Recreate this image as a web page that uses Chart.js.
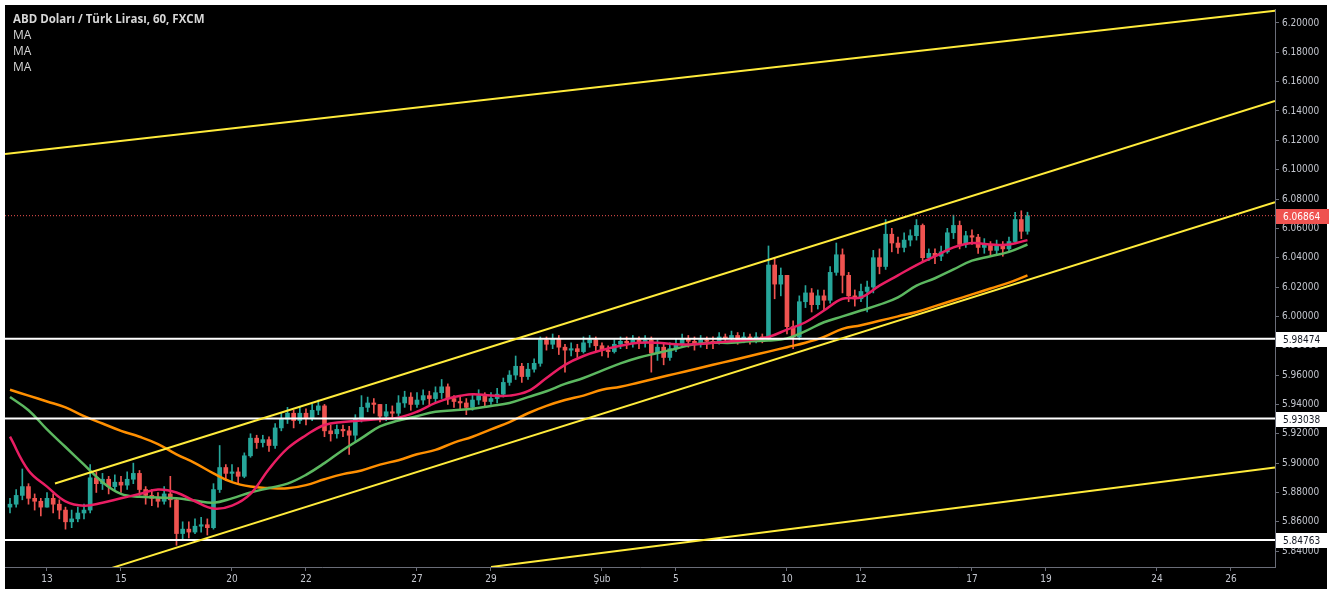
<!DOCTYPE html>
<html>
<head>
<meta charset="utf-8">
<script src="https://cdn.jsdelivr.net/npm/chart.js@4"></script>
<style>
  html, body { margin: 0; padding: 0; background: #ffffff; }
  canvas { display: block; }
</style>
</head>
<body>
<canvas id="usdtry" width="1332" height="592"></canvas>
<script>
// x values are trading days, 0 = 13 Ocak (weekends removed like the TradingView axis)
const dayTicks = [0, 2, 5, 7, 10, 12, 15, 17, 20, 22, 25, 27, 30, 32];
const dayLabels = ['13', '15', '20', '22', '27', '29', 'Şub', '5', '10', '12', '17', '19', '24', '26'];
const priceTicks = [5.84, 5.86, 5.88, 5.90, 5.92, 5.94, 5.96, 5.98, 6.00, 6.02, 6.04, 6.06, 6.08, 6.10, 6.12, 6.14, 6.16, 6.18, 6.20];

// 4-hour candles, first one at day -1, six per day (one row = one day)
const barStart = -1;
const barsPerDay = 6;
const firstOpen = 5.870;
const closes = [
  5.872, 5.878, 5.884, 5.876, 5.874, 5.870,
  5.876, 5.872, 5.868, 5.860, 5.862, 5.866,
  5.868, 5.890, 5.886, 5.889, 5.884, 5.887,
  5.885, 5.889, 5.893, 5.882, 5.878, 5.876,
  5.874, 5.879, 5.875, 5.852, 5.855, 5.853,
  5.857, 5.858, 5.856, 5.882, 5.897, 5.893,
  5.894, 5.891, 5.905, 5.917, 5.914, 5.916,
  5.912, 5.924, 5.930, 5.934, 5.929, 5.934,
  5.931, 5.936, 5.939, 5.922, 5.920, 5.923,
  5.922, 5.919, 5.930, 5.938, 5.941, 5.940,
  5.932, 5.935, 5.934, 5.941, 5.945, 5.940,
  5.943, 5.946, 5.944, 5.948, 5.952, 5.944,
  5.942, 5.941, 5.938, 5.943, 5.946, 5.942,
  5.944, 5.947, 5.955, 5.960, 5.966, 5.959,
  5.964, 5.968, 5.984, 5.981, 5.985, 5.979,
  5.977, 5.978, 5.976, 5.982, 5.984, 5.980,
  5.977, 5.976, 5.981, 5.983, 5.982, 5.984,
  5.982, 5.984, 5.975, 5.979, 5.972, 5.978,
  5.981, 5.985, 5.983, 5.981, 5.984, 5.983,
  5.982, 5.986, 5.985, 5.987, 5.984, 5.986,
  5.984, 5.986, 5.985, 6.035, 6.022, 6.028,
  5.993, 5.986, 6.010, 6.016, 6.008, 6.014,
  6.011, 6.030, 6.042, 6.028, 6.014, 6.012,
  6.017, 6.020, 6.040, 6.034, 6.056, 6.050,
  6.047, 6.052, 6.055, 6.062, 6.040, 6.043,
  6.041, 6.044, 6.057, 6.062, 6.049, 6.055,
  6.054, 6.047, 6.049, 6.045, 6.048, 6.046,
  6.051, 6.066, 6.058, 6.0686
];
const highs = [
  5.876, 5.882, 5.896, 5.886, 5.879, 5.876,
  5.880, 5.879, 5.875, 5.870, 5.868, 5.870,
  5.872, 5.899, 5.894, 5.893, 5.891, 5.892,
  5.891, 5.894, 5.900, 5.895, 5.884, 5.882,
  5.880, 5.884, 5.891, 5.876, 5.860, 5.860,
  5.862, 5.863, 5.862, 5.886, 5.912, 5.899,
  5.899, 5.897, 5.907, 5.920, 5.919, 5.919,
  5.918, 5.927, 5.934, 5.938, 5.936, 5.938,
  5.937, 5.940, 5.943, 5.940, 5.926, 5.926,
  5.926, 5.925, 5.933, 5.946, 5.945, 5.944,
  5.937, 5.940, 5.939, 5.946, 5.949, 5.948,
  5.948, 5.950, 5.949, 5.952, 5.957, 5.954,
  5.946, 5.945, 5.944, 5.947, 5.950, 5.948,
  5.948, 5.951, 5.958, 5.963, 5.973, 5.968,
  5.968, 5.971, 5.986, 5.986, 5.988, 5.987,
  5.981, 5.982, 5.981, 5.986, 5.987, 5.986,
  5.982, 5.980, 5.984, 5.986, 5.986, 5.987,
  5.986, 5.987, 5.986, 5.984, 5.981, 5.982,
  5.985, 5.988, 5.987, 5.986, 5.987, 5.986,
  5.986, 5.989, 5.988, 5.990, 5.989, 5.989,
  5.988, 5.989, 5.988, 6.048, 6.040, 6.033,
  6.028, 5.997, 6.014, 6.021, 6.019, 6.018,
  6.018, 6.034, 6.050, 6.046, 6.030, 6.018,
  6.022, 6.024, 6.045, 6.046, 6.066, 6.060,
  6.054, 6.057, 6.059, 6.066, 6.063, 6.046,
  6.046, 6.048, 6.060, 6.069, 6.065, 6.058,
  6.059, 6.056, 6.053, 6.051, 6.052, 6.051,
  6.054, 6.071, 6.072, 6.071
];
const lows = [
  5.866, 5.870, 5.875, 5.872, 5.868, 5.864,
  5.870, 5.866, 5.862, 5.855, 5.856, 5.860,
  5.862, 5.866, 5.880, 5.882, 5.879, 5.881,
  5.880, 5.882, 5.886, 5.878, 5.872, 5.871,
  5.870, 5.872, 5.870, 5.844, 5.848, 5.849,
  5.852, 5.853, 5.851, 5.855, 5.880, 5.888,
  5.888, 5.886, 5.890, 5.904, 5.910, 5.911,
  5.908, 5.910, 5.922, 5.927, 5.924, 5.927,
  5.926, 5.929, 5.933, 5.918, 5.915, 5.917,
  5.918, 5.906, 5.914, 5.928, 5.935, 5.934,
  5.928, 5.929, 5.930, 5.932, 5.938, 5.936,
  5.938, 5.940, 5.939, 5.941, 5.944, 5.940,
  5.938, 5.936, 5.933, 5.936, 5.940, 5.938,
  5.940, 5.941, 5.945, 5.953, 5.957, 5.955,
  5.957, 5.962, 5.966, 5.977, 5.978, 5.974,
  5.962, 5.973, 5.972, 5.975, 5.979, 5.976,
  5.973, 5.972, 5.975, 5.978, 5.978, 5.979,
  5.978, 5.979, 5.962, 5.970, 5.967, 5.970,
  5.976, 5.979, 5.979, 5.977, 5.979, 5.978,
  5.978, 5.981, 5.982, 5.983, 5.981, 5.982,
  5.981, 5.982, 5.982, 5.984, 6.012, 6.014,
  5.988, 5.978, 5.984, 6.006, 6.003, 6.005,
  6.004, 6.009, 6.028, 6.016, 6.010, 6.007,
  6.010, 6.003, 6.016, 6.029, 6.032, 6.044,
  6.043, 6.044, 6.048, 6.052, 6.037, 6.038,
  6.036, 6.038, 6.043, 6.053, 6.046, 6.047,
  6.049, 6.043, 6.043, 6.041, 6.042, 6.041,
  6.044, 6.050, 6.053, 6.056
];

// moving averages, one value every half day from day -1
const maStart = -1;
const maStep = 0.5;
const maPink = [
  5.918, 5.895, 5.884, 5.874, 5.871, 5.873, 5.876, 5.879, 5.882, 5.880,
  5.874, 5.869, 5.871, 5.879, 5.896, 5.910, 5.919, 5.926, 5.928, 5.929,
  5.930, 5.931, 5.935, 5.941, 5.945, 5.947, 5.946, 5.946, 5.949, 5.958,
  5.967, 5.973, 5.977, 5.980, 5.982, 5.982, 5.981, 5.981, 5.982, 5.983,
  5.984, 5.986, 5.991, 5.996, 6.004, 6.012, 6.013, 6.021, 6.028, 6.035,
  6.041, 6.047, 6.050, 6.049, 6.049, 6.052
];
const maGreen = [
  5.945, 5.936, 5.923, 5.911, 5.899, 5.887, 5.879, 5.877, 5.8766, 5.876,
  5.8745, 5.873, 5.876, 5.880, 5.883, 5.886, 5.892, 5.900, 5.909, 5.917,
  5.925, 5.929, 5.932, 5.935, 5.936, 5.937, 5.939, 5.941, 5.945, 5.949,
  5.954, 5.958, 5.963, 5.968, 5.972, 5.975, 5.978, 5.981, 5.982, 5.982,
  5.983, 5.9835, 5.985, 5.990, 5.996, 6.000, 6.004, 6.008, 6.013, 6.021,
  6.026, 6.032, 6.038, 6.041, 6.044, 6.049
];
const maOrange = [
  5.950, 5.946, 5.942, 5.938, 5.932, 5.927, 5.922, 5.918, 5.913, 5.906,
  5.900, 5.893, 5.887, 5.884, 5.883, 5.8828, 5.885, 5.889, 5.8925, 5.895,
  5.899, 5.902, 5.906, 5.909, 5.914, 5.918, 5.923, 5.928, 5.934, 5.939,
  5.943, 5.946, 5.950, 5.952, 5.955, 5.958, 5.961, 5.964, 5.967, 5.970,
  5.973, 5.976, 5.979, 5.982, 5.986, 5.9915, 5.994, 5.997, 6.000, 6.003,
  6.007, 6.011, 6.015, 6.019, 6.023, 6.028
];

// drawn trend lines: [startDay, startPrice, endDay, endPrice]
const trendLines = [
  [-1.135, 6.1107, 33.19, 6.2083],
  [0.216, 5.8861, 33.19, 6.1468],
  [1.757, 5.8286, 33.19, 6.0778],
  [12.0, 5.8292, 33.19, 5.8971]
];
const levels = [5.98474, 5.93038, 5.84763];
const lastPrice = 6.06864;

const xMin = -1.135, xMax = 33.19;
const yMin = 5.8292, yMax = 6.2095;

const UP = '#26a69a';
const DOWN = '#ef5350';
const AXIS_TEXT = '#c3c6ce';

let opens = closes.map((c, i) => i === 0 ? firstOpen : closes[i - 1]);
let candleDay = i => barStart + i / barsPerDay;
let bodies = closes.map((c, i) => ({ x: candleDay(i), y: [opens[i], c] }));
let wicks = closes.map((c, i) => ({
  x: candleDay(i),
  y: [Math.min(lows[i], opens[i], c), Math.max(highs[i], opens[i], c)]
}));
let candleColor = ctx => closes[ctx.dataIndex] >= opens[ctx.dataIndex] ? UP : DOWN;
let maPoints = arr => arr.map((v, i) => ({ x: maStart + i * maStep, y: v }));

function lineSet(data, color, width, extra) {
  return Object.assign({
    type: 'line', data: data, borderColor: color, borderWidth: width,
    pointRadius: 0, fill: false, tension: 0, order: 1
  }, extra || {});
}

let datasets = [
  { type: 'bar', data: wicks, backgroundColor: candleColor, barThickness: 1, grouped: false, order: 10 },
  { type: 'bar', data: bodies, backgroundColor: candleColor, barThickness: 4, minBarLength: 1, grouped: false, order: 9 },
  lineSet(maPoints(maOrange), '#ff8f00', 2.5, { tension: 0.4, order: 6 }),
  lineSet(maPoints(maGreen), '#5cb860', 2.5, { tension: 0.4, order: 5 }),
  lineSet(maPoints(maPink), '#e91e63', 2.5, { tension: 0.4, order: 4 }),
  lineSet([{ x: xMin, y: lastPrice }, { x: xMax, y: lastPrice }], '#ef5350', 1, { borderDash: [1, 2], order: 7 })
];
levels.forEach(v => {
  datasets.push(lineSet([{ x: xMin, y: v }, { x: xMax, y: v }], '#ffffff', 2, { order: 3 }));
});
trendLines.forEach(t => {
  datasets.push(lineSet([{ x: t[0], y: t[1] }, { x: t[2], y: t[3] }], '#ffeb3b', 2, { order: 2 }));
});

const background = {
  id: 'background',
  beforeDraw(chart) {
    let c = chart.ctx;
    c.save();
    c.fillStyle = '#ffffff';
    c.fillRect(0, 0, chart.width, chart.height);
    c.fillStyle = '#000000';
    c.fillRect(5, 5, chart.width - 10, chart.height - 8);
    c.restore();
  }
};

const priceBoxes = {
  id: 'priceBoxes',
  afterDraw(chart) {
    let c = chart.ctx;
    let y = chart.scales.y;
    let left = chart.chartArea.right;
    let box = (v, bg, fg) => {
      let py = Math.round(y.getPixelForValue(v));
      c.fillStyle = bg;
      c.fillRect(left + 1, py - 7, 53, 15);
      c.fillStyle = fg;
      c.font = '10px "DejaVu Sans Condensed"';
      c.textBaseline = 'middle';
      c.textAlign = 'left';
      c.fillText(v.toFixed(5), left + 8, py + 1);
    };
    c.save();
    levels.forEach(v => box(v, '#ffffff', '#131722'));
    box(lastPrice, '#ef5350', '#ffffff');
    c.restore();
  }
};

const legendText = {
  id: 'legendText',
  afterDraw(chart) {
    let c = chart.ctx;
    c.save();
    c.textBaseline = 'middle';
    c.textAlign = 'left';
    c.fillStyle = '#d6d6d6';
    c.font = 'bold 11.5px "Open Sans"';
    c.fillText('ABD Doları / Türk Lirası, 60, FXCM', 13, 20);
    c.font = '12px "Open Sans"';
    c.fillText('MA', 13, 36);
    c.fillText('MA', 13, 52);
    c.fillText('MA', 13, 68);
    c.restore();
  }
};

new Chart(document.getElementById('usdtry'), {
  type: 'bar',
  data: { datasets: datasets },
  options: {
    responsive: false,
    animation: false,
    devicePixelRatio: 1,
    layout: { padding: { left: 5, right: 5, top: 5, bottom: 3 } },
    plugins: { legend: { display: false }, tooltip: { enabled: false } },
    scales: {
      x: {
        type: 'linear', min: xMin, max: xMax, offset: false,
        grid: { offset: false, drawOnChartArea: false, drawTicks: true, tickLength: 4, color: '#6a6d78' },
        border: { color: '#6a6d78' },
        afterBuildTicks: s => { s.ticks = dayTicks.map(v => ({ value: v })); },
        afterFit: s => { s.height = 22; },
        ticks: {
          autoSkip: false, maxRotation: 0, padding: 2, color: AXIS_TEXT,
          font: { family: 'DejaVu Sans Condensed', size: 10 },
          callback: (v, i) => dayLabels[i]
        }
      },
      y: {
        type: 'linear', position: 'right', min: yMin, max: yMax,
        grid: { drawOnChartArea: false, drawTicks: true, tickLength: 4, color: '#6a6d78' },
        border: { color: '#6a6d78' },
        afterBuildTicks: s => { s.ticks = priceTicks.map(v => ({ value: v })); },
        afterFit: s => { s.width = 52; },
        ticks: {
          padding: 3, color: AXIS_TEXT,
          font: { family: 'DejaVu Sans Condensed', size: 10 },
          callback: v => v.toFixed(5)
        }
      }
    }
  },
  plugins: [background, priceBoxes, legendText]
});
</script>
</body>
</html>
